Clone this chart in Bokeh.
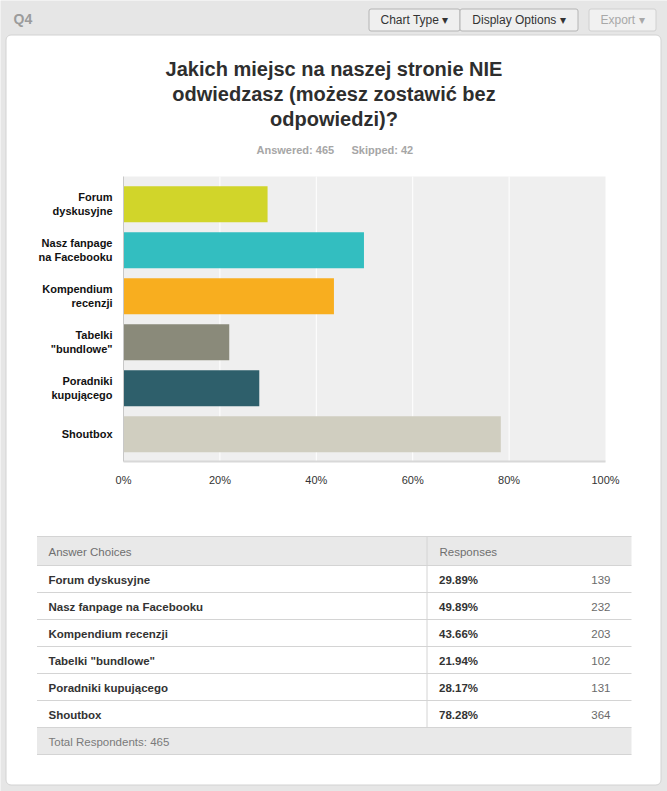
from bokeh.plotting import figure
from bokeh.models import ColumnDataSource, Range1d, FixedTicker, LinearAxis
from bokeh.embed import file_html
from bokeh.resources import INLINE
from bokeh.core.properties import value

# ---------------- data ----------------
question = "Q4"
title_lines = ["Jakich miejsc na naszej stronie NIE",
               "odwiedzasz (możesz zostawić bez",
               "odpowiedzi)?"]
answered = 465
skipped = 42
categories = ["Forum dyskusyjne", "Nasz fanpage na Facebooku", "Kompendium recenzji",
              'Tabelki "bundlowe"', "Poradniki kupującego", "Shoutbox"]
axis_labels = ["Forum\ndyskusyjne", "Nasz fanpage\nna Facebooku", "Kompendium\nrecenzji",
               'Tabelki\n"bundlowe"', "Poradniki\nkupującego", "Shoutbox"]
percents = [29.89, 49.89, 43.66, 21.94, 28.17, 78.28]
counts = [139, 232, 203, 102, 131, 364]
total_respondents = 465
x_ticks = [0, 20, 40, 60, 80, 100]
x_tick_labels = ["0%", "20%", "40%", "60%", "80%", "100%"]
bar_colors = ["#d1d52a", "#33bec0", "#f8ae1f", "#8a8a7a", "#2e5f6b", "#d0cec0"]
buttons = ["Chart Type \u25be", "Display Options \u25be", "Export \u25be"]
table_headers = ["Answer Choices", "Responses"]

FONT = "Liberation Sans"
W, H = 667, 791

# layout constants (pixels)
PLOT_L, PLOT_R, PLOT_T, PLOT_B = 123, 605, 176, 461
ROW0, ROW_H = 203.7, 46.0
n = len(categories)
sx = (PLOT_R - PLOT_L) / 100.0

p = figure(width=W, height=H, x_range=Range1d(0, W), y_range=Range1d(H, 0),
           output_backend="svg", toolbar_location=None, x_axis_type=None,
           y_axis_type=None, min_border=0, title=None)
p.outline_line_color = None
p.background_fill_color = "#e6e6e6"
p.border_fill_color = "#e6e6e6"
p.grid.visible = False
p.extra_x_ranges = {"pct": Range1d(-PLOT_L / sx, (W - PLOT_L) / sx)}
p.extra_y_ranges = {"rows": Range1d((H - ROW0) / ROW_H, -ROW0 / ROW_H)}

T = dict(text_font=value(FONT), text_baseline="middle")

# ---------------- card + header ----------------
p.quad(left=5.5, right=660.5, top=34.5, bottom=784.5, fill_color="white",
       line_color="#d2d2d2", line_width=1, border_radius=5)
p.text(x=[13], y=[18.5], text=[question], text_font_style="bold",
       text_font_size="14px", text_color="#9b9b9b", **T)
b_left = [368.5, 459.5, 588.5]
b_right = [459.5, 577.5, 655.5]
p.quad(left=b_left, right=b_right, top=[8.5] * 3, bottom=[30.5] * 3,
       fill_color=["#efefef", "#efefef", "#f1f1f1"],
       line_color=["#b4b4b4", "#b4b4b4", "#d0d0d0"], line_width=1, border_radius=2)
p.text(x=[(a + b) / 2 for a, b in zip(b_left, b_right)], y=[19.5] * 3, text=buttons,
       text_font_size="12px", text_color=["#333333", "#333333", "#a8a8a8"],
       text_align="center", **T)

# ---------------- title ----------------
p.text(x=[333.5] * len(title_lines), y=[68.5 + 25 * i for i in range(len(title_lines))],
       text=title_lines, text_font_style="bold", text_font_size="20px",
       text_color="#2e2e2e", text_align="center", **T)
p.text(x=[256, 351], y=[149, 149], text=[f"Answered: {answered}", f"Skipped: {skipped}"],
       text_font_style="bold", text_font_size="11px", text_color="#a6a6a6", **T)

# ---------------- bar chart ----------------
p.quad(left=PLOT_L, right=PLOT_R, top=PLOT_T, bottom=PLOT_B, fill_color="#efefef",
       line_color=None)
p.segment(x0=x_ticks[1:-1], x1=x_ticks[1:-1], y0=PLOT_T, y1=PLOT_B, x_range_name="pct",
          line_color="white", line_width=1)
src = ColumnDataSource(dict(row=list(range(n)), pct=percents, color=bar_colors))
p.hbar(y="row", left=0, right="pct", height=0.78, fill_color="color", line_color=None,
       source=src, x_range_name="pct", y_range_name="rows")

xaxis = LinearAxis(x_range_name="pct", fixed_location=PLOT_B,
                   ticker=FixedTicker(ticks=x_ticks),
                   major_label_overrides=dict(zip(x_ticks, x_tick_labels)),
                   bounds=(0, 100))
yaxis = LinearAxis(y_range_name="rows", fixed_location=PLOT_L,
                   ticker=FixedTicker(ticks=list(range(n))),
                   major_label_overrides=dict(zip(range(n), axis_labels)),
                   bounds=((PLOT_T - ROW0) / ROW_H, (PLOT_B - ROW0) / ROW_H))
for ax in (xaxis, yaxis):
    ax.major_tick_line_color = None
    ax.minor_tick_line_color = None
    ax.major_tick_out = 0
    ax.major_tick_in = 0
    ax.minor_tick_out = 0
    ax.major_label_text_font = FONT
    ax.major_label_text_font_size = "11px"
xaxis.axis_line_color = "#d8d8d8"
xaxis.axis_line_width = 2
xaxis.major_label_standoff = 12
xaxis.major_label_text_color = "#333333"
yaxis.axis_line_color = "#c8c8c8"
yaxis.major_label_standoff = 11
yaxis.major_label_text_font_style = "bold"
yaxis.major_label_text_color = "#111111"
p.add_layout(xaxis, "below")
p.add_layout(yaxis, "left")

# ---------------- table ----------------
t_left, t_right = 36.5, 631
head_top, head_bot, row_h = 536, 565, 27
foot_top = head_bot + row_h * n
foot_bot = foot_top + row_h
p.quad(left=[t_left, t_left], right=[t_right, t_right], top=[head_top, foot_top],
       bottom=[head_bot, foot_bot], fill_color="#e9e9e9", line_color=None)
lines_y = [head_top, head_bot] + [head_bot + row_h * (i + 1) for i in range(n)] + [foot_bot]
p.segment(x0=[t_left] * len(lines_y), x1=[t_right] * len(lines_y), y0=lines_y, y1=lines_y,
          line_color="#d4d4d4", line_width=1)
p.segment(x0=[426.5], x1=[426.5], y0=[head_top], y1=[foot_top], line_color="#d4d4d4",
          line_width=1)
p.text(x=[48, 439], y=[(head_top + head_bot) / 2 + 0.5] * 2, text=table_headers,
       text_font_size="11.5px", text_color="#6f6f6f", **T)
tsrc = ColumnDataSource(dict(y=[head_bot + row_h * i + 14 for i in range(n)],
                             name=categories,
                             pct=[f"{v:.2f}%" for v in percents],
                             cnt=[str(c) for c in counts]))
p.text(x=48, y="y", text="name", source=tsrc, text_font_style="bold",
       text_font_size="11.5px", text_color="#333333", **T)
p.text(x=438.5, y="y", text="pct", source=tsrc, text_font_style="bold",
       text_font_size="11.5px", text_color="#333333", **T)
p.text(x=610, y="y", text="cnt", source=tsrc, text_font_size="11.5px",
       text_color="#6a6a6a", text_align="right", **T)
p.text(x=[48], y=[(foot_top + foot_bot) / 2 + 0.5],
       text=[f"Total Respondents: {total_respondents}"], text_font_size="11.5px",
       text_color="#7a7a7a", **T)

open("out.html", "w").write(file_html(p, INLINE))
